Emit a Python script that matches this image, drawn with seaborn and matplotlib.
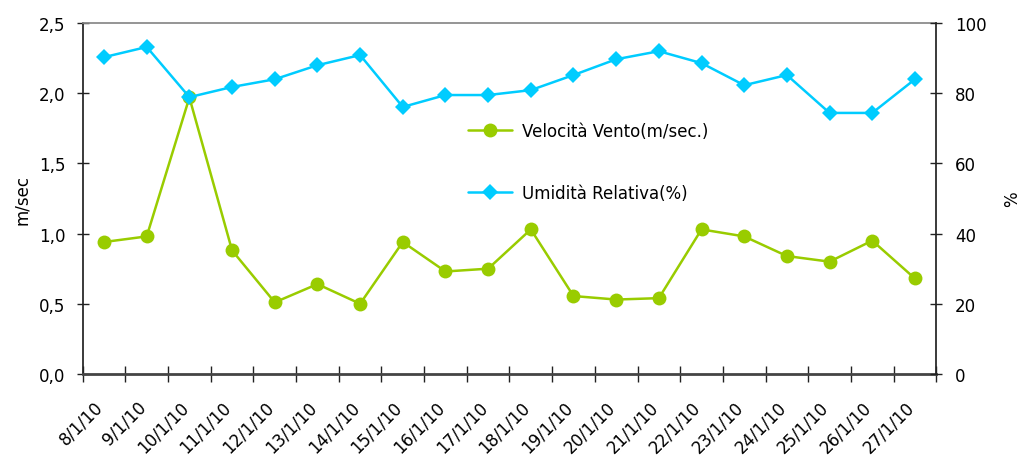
import pandas as pd
import matplotlib.pyplot as plt
import matplotlib.transforms as mtrans
import seaborn as sns
from matplotlib.ticker import FixedLocator, FuncFormatter

sns.set_theme(style="white")
plt.rcParams['font.family'] = ['DejaVu Sans']
plt.rcParams['text.color'] = 'black'
plt.rcParams['axes.labelcolor'] = 'black'
plt.rcParams['xtick.color'] = 'black'
plt.rcParams['ytick.color'] = 'black'

# Dati
date = ['8/1/10', '9/1/10', '10/1/10', '11/1/10', '12/1/10', '13/1/10', '14/1/10',
        '15/1/10', '16/1/10', '17/1/10', '18/1/10', '19/1/10', '20/1/10', '21/1/10',
        '22/1/10', '23/1/10', '24/1/10', '25/1/10', '26/1/10', '27/1/10']
vento = [0.94, 0.98, 1.97, 0.88, 0.51, 0.64, 0.50, 0.94, 0.73, 0.75,
         1.03, 0.555, 0.53, 0.54, 1.03, 0.98, 0.84, 0.80, 0.95, 0.68]
umidita = [90.3, 93.2, 78.9, 81.8, 84.0, 88.0, 90.9, 76.1, 79.5, 79.5,
           80.9, 85.2, 89.7, 92.0, 88.6, 82.3, 85.2, 74.4, 74.4, 84.0]

df = pd.DataFrame({'data': date, 'vento': vento, 'umidita': umidita})

VERDE = '#99cc00'
AZZURRO = '#00ccff'

fig = plt.figure(figsize=(10.21, 4.64), dpi=100)
ax = fig.add_axes([0.081, 0.192, 0.836, 0.756])
ax2 = ax.twinx()

sns.lineplot(data=df, x='data', y='vento', ax=ax, sort=False, color=VERDE,
             marker='o', markersize=10, markeredgewidth=0, linewidth=1.8,
             label='Velocità Vento(m/sec.)', legend=False)
sns.lineplot(data=df, x='data', y='umidita', ax=ax2, sort=False, color=AZZURRO,
             marker='D', markersize=8.5, markeredgewidth=0, linewidth=1.8,
             label='Umidità Relativa(%)', legend=False)

n = len(date)
ax.set_xlim(-0.5, n - 0.5)
ax.set_ylim(0, 2.5)
ax2.set_ylim(0, 100)

ax.set_yticks([0, 0.5, 1.0, 1.5, 2.0, 2.5])
ax.yaxis.set_major_formatter(FuncFormatter(lambda v, p: f"{v:.1f}".replace('.', ',')))
ax2.set_yticks([0, 20, 40, 60, 80, 100])

# etichette al centro, tacche tra le categorie
ax.set_xticks(range(n))
ax.set_xticklabels(date, rotation=45, ha='right', rotation_mode='anchor')
ax.xaxis.set_minor_locator(FixedLocator([i - 0.5 for i in range(n + 1)]))
ax.tick_params(axis='x', which='major', length=0, pad=17, labelsize=12)
ax.tick_params(axis='x', which='minor', direction='inout', length=11, width=1, color='#222222', bottom=True)
ax.tick_params(axis='y', direction='inout', length=9, width=1, color='#222222', labelsize=12, left=True, pad=8)
ax2.tick_params(axis='y', direction='inout', length=9, width=1, color='#222222', labelsize=12, right=True, pad=9)

# spostare le etichette un po' a sinistra come nell'originale
shift = mtrans.ScaledTranslation(-10 / 100, 0, fig.dpi_scale_trans)
for lab in ax.get_xticklabels():
    lab.set_transform(lab.get_transform() + shift)

ax.set_xlabel('')
ax.set_ylabel('m/sec', fontsize=12, labelpad=6)
ax2.set_ylabel('%', fontsize=12, labelpad=12)

for a in (ax, ax2):
    a.grid(False)
    for s in a.spines.values():
        s.set_visible(False)
ax.spines['left'].set_visible(True)
ax.spines['bottom'].set_visible(True)
ax.spines['top'].set_visible(True)
ax2.spines['right'].set_visible(True)
ax.spines['left'].set_color('#222222')
ax.spines['bottom'].set_color('#444444')
ax.spines['bottom'].set_linewidth(2)
ax.spines['top'].set_color('#888888')
ax2.spines['right'].set_color('#222222')

h1, l1 = ax.get_legend_handles_labels()
h2, l2 = ax2.get_legend_handles_labels()
fig.legend(h1 + h2, l1 + l2, loc='upper left', bbox_to_anchor=(0.444, 0.768),
           frameon=False, fontsize=12, labelspacing=2.65, handlelength=2.6,
           handletextpad=0.6)

plt.savefig('out.png', dpi=100)
plt.close()
